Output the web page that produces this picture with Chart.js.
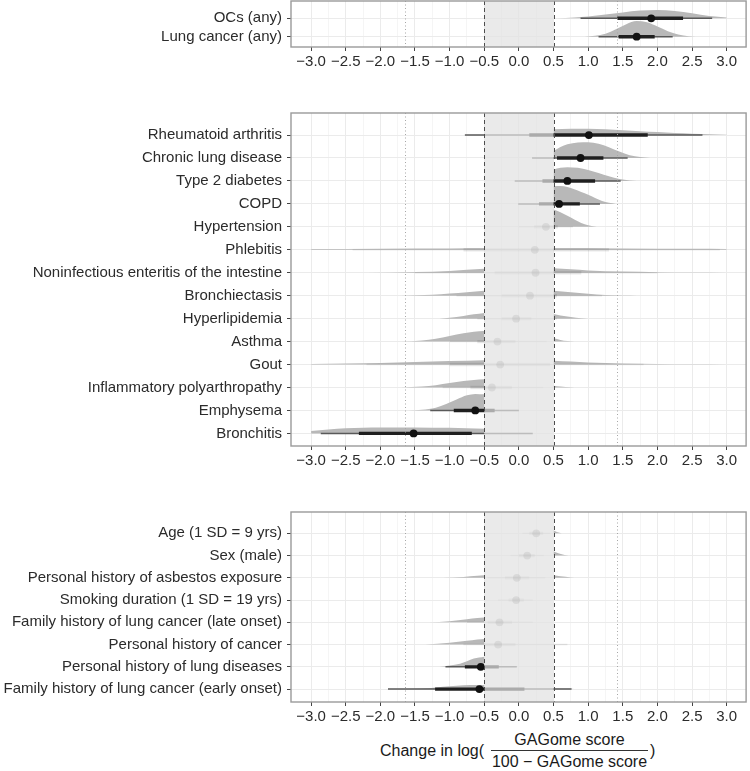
<!DOCTYPE html>
<html>
<head>
<meta charset="utf-8">
<script src="https://cdn.jsdelivr.net/npm/chart.js@4.4.1/dist/chart.umd.min.js"></script>
<style>
  html, body { margin: 0; padding: 0; background: #fff; }
  body { width: 750px; height: 771px; position: relative; overflow: hidden; font-family: "Liberation Sans", Arial, Helvetica, sans-serif; }
  canvas { position: absolute; left: 0; }
  .t { position: absolute; font-size: 16px; line-height: 16px; color: #1a1a1a; white-space: nowrap; }
</style>
</head>
<body>
<canvas id="c1"></canvas>
<canvas id="c2"></canvas>
<canvas id="c3"></canvas>

<div class="t" style="left:380px; top:743px;">Change in log(</div>
<div class="t" style="left:491px; width:157px; text-align:center; top:732px;">GAGome score</div>
<div style="position:absolute; left:491px; width:157px; top:750px; height:1px; background:#333;"></div>
<div class="t" style="left:491px; width:157px; text-align:center; top:754px;">100 &minus; GAGome score</div>
<div class="t" style="left:650px; top:743px;">)</div>

<script>
(function() {

  // x axis
  var X_BREAKS = [-3.0, -2.5, -2.0, -1.5, -1.0, -0.5, 0.0, 0.5, 1.0, 1.5, 2.0, 2.5, 3.0];
  var X_MINOR = [-2.75, -2.25, -1.75, -1.25, -0.75, -0.25, 0.25, 0.75, 1.25, 1.75, 2.25, 2.75];
  var ROPE = [-0.5, 0.5];
  var REF_DOTTED = [-1.65, 1.42];

  // panel 1 : outcomes
  var labels1 = ['OCs (any)', 'Lung cancer (any)'];
  var median1 = [1.91, 1.70];
  var thick1 = [[1.42, 2.37], [1.44, 1.96]];
  var thin1 = [[0.89, 2.79], [1.15, 2.22]];
  var sig1 = [true, true];
  // density outline [x, height in rows]; null = gap over the ROPE
  var dens1 = [
    [[0.55, 0], [0.8, 0.04], [1.0, 0.1], [1.25, 0.2], [1.5, 0.32], [1.75, 0.42], [2.0, 0.45], [2.25, 0.4], [2.5, 0.28], [2.75, 0.13], [3.0, 0.05]],
    [[0.95, 0], [1.1, 0.05], [1.25, 0.16], [1.4, 0.4], [1.55, 0.68], [1.7, 0.85], [1.85, 0.78], [2.0, 0.55], [2.15, 0.3], [2.3, 0.12], [2.45, 0.03], [2.55, 0]]
  ];

  // panel 2 : comorbidities
  var labels2 = ['Rheumatoid arthritis', 'Chronic lung disease', 'Type 2 diabetes', 'COPD', 'Hypertension', 'Phlebitis',
    'Noninfectious enteritis of the intestine', 'Bronchiectasis', 'Hyperlipidemia', 'Asthma', 'Gout',
    'Inflammatory polyarthropathy', 'Emphysema', 'Bronchitis'];
  var median2 = [1.01, 0.89, 0.70, 0.58, 0.39, 0.23, 0.24, 0.16, -0.04, -0.31, -0.27, -0.39, -0.63, -1.52];
  var thick2 = [[0.15, 1.86], [0.55, 1.22], [0.34, 1.10], [0.29, 0.88], [0.22, 0.56], [-0.8, 1.3], [-0.35, 0.9], [-0.25, 0.55],
    [-0.25, 0.18], [-0.6, -0.05], [-1.0, 0.45], [-0.7, -0.1], [-0.94, -0.35], [-2.31, -0.68]];
  var thin2 = [[-0.78, 2.65], [0.19, 1.57], [-0.06, 1.47], [-0.01, 1.17], [0.0, 0.78], [-2.4, 2.9], [-1.5, 2.0], [-0.9, 1.2],
    [-0.6, 0.55], [-1.0, 0.4], [-2.2, 1.8], [-1.1, 0.35], [-1.28, 0.0], [-2.86, 0.2]];
  var sig2 = [true, true, true, true, false, false, false, false, false, false, false, false, true, true];
  var dens2 = [
    [[0.5, 0.25], [0.75, 0.27], [1.0, 0.27], [1.25, 0.25], [1.5, 0.21], [1.75, 0.17], [2.0, 0.13], [2.25, 0.09], [2.5, 0.06], [2.75, 0.03], [3.0, 0.015]],
    [[0.5, 0.3], [0.6, 0.48], [0.7, 0.6], [0.85, 0.68], [1.0, 0.69], [1.15, 0.62], [1.3, 0.47], [1.45, 0.28], [1.6, 0.12], [1.75, 0.04], [1.9, 0]],
    [[0.5, 0.5], [0.6, 0.57], [0.7, 0.6], [0.85, 0.57], [1.0, 0.48], [1.15, 0.35], [1.3, 0.2], [1.45, 0.08], [1.6, 0.02], [1.7, 0]],
    [[0.5, 0.77], [0.6, 0.78], [0.7, 0.74], [0.8, 0.64], [0.9, 0.52], [1.0, 0.4], [1.1, 0.26], [1.2, 0.13], [1.3, 0.05], [1.4, 0]],
    [[0.5, 0.75], [0.6, 0.63], [0.7, 0.48], [0.8, 0.32], [0.9, 0.17], [1.0, 0.07], [1.1, 0.01], [1.15, 0]],
    [[-3.0, 0.03], [-2.0, 0.05], [-1.0, 0.06], [-0.5, 0.065], null, [0.5, 0.065], [1.5, 0.055], [2.5, 0.04], [3.0, 0.03]],
    [[-2.2, 0], [-1.5, 0.03], [-1.0, 0.08], [-0.5, 0.17], null, [0.5, 0.2], [0.75, 0.15], [1.0, 0.1], [1.5, 0.05], [2.0, 0.025], [2.5, 0.01], [3.0, 0]],
    [[-1.7, 0], [-1.25, 0.04], [-1.0, 0.09], [-0.75, 0.15], [-0.5, 0.22], null, [0.5, 0.22], [0.75, 0.15], [1.0, 0.08], [1.25, 0.03], [1.5, 0.01], [1.7, 0]],
    [[-1.15, 0], [-1.0, 0.04], [-0.8, 0.12], [-0.65, 0.19], [-0.5, 0.25], null, [0.5, 0.2], [0.6, 0.14], [0.75, 0.07], [0.9, 0.02], [1.0, 0]],
    [[-1.7, 0], [-1.4, 0.05], [-1.2, 0.12], [-1.0, 0.24], [-0.8, 0.36], [-0.65, 0.43], [-0.5, 0.46], null, [0.5, 0.14], [0.6, 0.07], [0.7, 0.02], [0.8, 0]],
    [[-3.0, 0.02], [-2.5, 0.04], [-2.0, 0.07], [-1.5, 0.11], [-1.0, 0.15], [-0.5, 0.19], null, [0.5, 0.17], [0.75, 0.13], [1.0, 0.09], [1.5, 0.05], [2.0, 0.025], [2.5, 0.01], [3.0, 0]],
    [[-1.7, 0], [-1.4, 0.04], [-1.2, 0.1], [-1.0, 0.19], [-0.8, 0.28], [-0.65, 0.33], [-0.5, 0.36], null, [0.5, 0.08], [0.6, 0.04], [0.75, 0.01], [0.85, 0]],
    [[-1.6, 0], [-1.4, 0.03], [-1.2, 0.12], [-1.05, 0.28], [-0.9, 0.48], [-0.75, 0.66], [-0.63, 0.72], [-0.5, 0.7]],
    [[-3.0, 0.1], [-2.75, 0.17], [-2.5, 0.22], [-2.25, 0.25], [-2.0, 0.26], [-1.5, 0.26], [-1.0, 0.24], [-0.75, 0.22], [-0.5, 0.2]]
  ];

  // panel 3 : demographics / history
  var labels3 = ['Age (1 SD = 9 yrs)', 'Sex (male)', 'Personal history of asbestos exposure', 'Smoking duration (1 SD = 19 yrs)',
    'Family history of lung cancer (late onset)', 'Personal history of cancer', 'Personal history of lung diseases',
    'Family history of lung cancer (early onset)'];
  var median3 = [0.25, 0.12, -0.03, -0.04, -0.28, -0.30, -0.55, -0.57];
  var thick3 = [[0.15, 0.35], [0.0, 0.23], [-0.2, 0.15], [-0.15, 0.07], [-0.45, -0.1], [-0.5, -0.05], [-0.78, -0.29], [-1.21, 0.08]];
  var thin3 = [[0.05, 0.45], [-0.12, 0.36], [-0.45, 0.38], [-0.3, 0.2], [-0.75, 0.2], [-0.8, 0.7], [-1.06, -0.03], [-1.89, 0.76]];
  var sig3 = [false, false, false, false, false, false, true, true];
  var dens3 = [
    [[0.5, 0.13], [0.55, 0.06], [0.62, 0.01], [0.65, 0]],
    [[0.5, 0.18], [0.58, 0.1], [0.66, 0.03], [0.72, 0]],
    [[-1.1, 0], [-0.8, 0.04], [-0.6, 0.09], [-0.5, 0.12], null, [0.5, 0.12], [0.6, 0.07], [0.75, 0.02], [0.85, 0]],
    [],
    [[-1.3, 0], [-1.0, 0.05], [-0.75, 0.14], [-0.6, 0.19], [-0.5, 0.22]],
    [[-1.35, 0], [-1.0, 0.08], [-0.75, 0.17], [-0.6, 0.23], [-0.5, 0.25], null, [0.5, 0.02], [0.6, 0]],
    [[-1.15, 0], [-1.0, 0.06], [-0.85, 0.14], [-0.75, 0.25], [-0.65, 0.37], [-0.5, 0.45]],
    [[-1.6, 0], [-1.3, 0.04], [-1.1, 0.1], [-0.9, 0.15], [-0.7, 0.18], [-0.5, 0.18], null, [0.5, 0.03], [0.7, 0.01], [0.8, 0]]
  ];

  var FONT = '"Liberation Sans", Arial, Helvetica, sans-serif';
  Chart.defaults.font.family = FONT;

  var PLOT_LEFT = 291, PAD_TOP = 4, X_AXIS_H = 28;

  function isMajor(v){
    return X_BREAKS.some(function(b){ return Math.abs(b - v) < 1e-6; });
  }

  function fmt(v){
    var s = Math.abs(v).toFixed(1);
    return v < -1e-6 ? '\u2212' + s : s;
  }

  function splitSegments(pts){
    var segs = [], cur = [];
    pts.forEach(function(p){
      if (p === null){ if (cur.length) segs.push(cur); cur = []; }
      else cur.push(p);
    });
    if (cur.length) segs.push(cur);
    return segs;
  }

  // no label-overhang padding: plot box is placed by hand
  function noPadding(s){
    s.paddingTop = 0; s.paddingBottom = 0; s.paddingLeft = 0; s.paddingRight = 0;
  }

  var overlays = {
    id: 'overlays',
    afterDatasetsDraw: function(chart){
      var ctx = chart.ctx, a = chart.chartArea, xs = chart.scales.x;
      ctx.save();
      // ROPE band on top of the marks
      var r0 = xs.getPixelForValue(ROPE[0]), r1 = xs.getPixelForValue(ROPE[1]);
      ctx.fillStyle = 'rgba(226,226,226,0.72)';
      ctx.fillRect(r0, a.top, r1 - r0, a.bottom - a.top);

      ctx.lineWidth = 1;
      ctx.strokeStyle = '#a6a6a6';
      ctx.setLineDash([1, 2.5]);
      REF_DOTTED.forEach(function(v){
        var px = Math.round(xs.getPixelForValue(v)) + 0.5;
        ctx.beginPath(); ctx.moveTo(px, a.top); ctx.lineTo(px, a.bottom); ctx.stroke();
      });
      ctx.strokeStyle = '#4d4d4d';
      ctx.setLineDash([4, 3]);
      ROPE.forEach(function(v){
        var px = Math.round(xs.getPixelForValue(v)) + 0.5;
        ctx.beginPath(); ctx.moveTo(px, a.top); ctx.lineTo(px, a.bottom); ctx.stroke();
      });
      ctx.setLineDash([]);
      ctx.strokeStyle = '#9a9a9a';
      ctx.lineWidth = 1.4;
      ctx.strokeRect(a.left, a.top, a.right - a.left, a.bottom - a.top);
      ctx.restore();
    }
  };

  function makePanel(id, plotTop, plotBottom, labels, median, thick, thin, sig, dens, yMin, yMax){
    var n = labels.length;
    var canvas = document.getElementById(id);
    var h = plotBottom - plotTop + PAD_TOP + X_AXIS_H;
    canvas.width = 750; canvas.height = h;
    canvas.style.width = '750px'; canvas.style.height = h + 'px';
    canvas.style.top = (plotTop - PAD_TOP) + 'px';

    var datasets = [];
    labels.forEach(function(lab, i){
      var yv = n - 1 - i;
      splitSegments(dens[i]).forEach(function(seg){
        datasets.push({
          type: 'line', showLine: true, order: 4,
          data: seg.map(function(p){ return {x: p[0], y: yv + p[1]}; }),
          fill: {value: yv}, backgroundColor: '#b8b8b8',
          borderColor: 'rgba(0,0,0,0)', borderWidth: 0,
          pointRadius: 0, pointHoverRadius: 0, cubicInterpolationMode: 'monotone'
        });
      });
      datasets.push({
        type: 'line', showLine: true, order: 3, fill: false,
        data: [{x: thin[i][0], y: yv}, {x: thin[i][1], y: yv}],
        borderColor: sig[i] ? '#595959' : 'rgba(90,90,90,0.12)', borderWidth: 1.5,
        borderCapStyle: 'butt', pointRadius: 0, pointHoverRadius: 0
      });
      datasets.push({
        type: 'line', showLine: true, order: 2, fill: false,
        data: [{x: thick[i][0], y: yv}, {x: thick[i][1], y: yv}],
        borderColor: sig[i] ? '#1f1f1f' : 'rgba(40,40,40,0.1)', borderWidth: 3.4,
        borderCapStyle: 'butt', pointRadius: 0, pointHoverRadius: 0
      });
    });
    datasets.push({
      type: 'scatter', order: 1,
      data: median.map(function(m, i){ return {x: m, y: n - 1 - i}; }),
      backgroundColor: sig.map(function(s){ return s ? '#111' : 'rgba(0,0,0,0.24)'; }),
      borderWidth: 0, pointRadius: 3.9, pointHoverRadius: 3.9
    });

    return new Chart(canvas, {
      type: 'scatter',
      data: {datasets: datasets},
      options: {
        responsive: false, animation: false, events: [],
        layout: {padding: {top: PAD_TOP, right: 2, bottom: 0, left: 0}},
        plugins: {legend: {display: false}, tooltip: {enabled: false}},
        scales: {
          x: {
            type: 'linear', min: -3.29, max: 3.28,
            afterBuildTicks: function(s){
              s.ticks = X_BREAKS.concat(X_MINOR).sort(function(a, b){ return a - b; })
                .map(function(v){ return {value: v}; });
            },
            afterFit: function(s){ s.height = X_AXIS_H; noPadding(s); },
            border: {display: false},
            grid: {
              color: function(c){ return c.tick && isMajor(c.tick.value) ? '#ebebeb' : '#f3f3f3'; },
              lineWidth: function(c){ return c.tick && isMajor(c.tick.value) ? 1 : 0.8; },
              tickColor: function(c){ return c.tick && isMajor(c.tick.value) ? '#444' : 'rgba(0,0,0,0)'; },
              tickLength: 4
            },
            ticks: {
              autoSkip: false, maxRotation: 0, padding: 2, color: '#2b2b2b',
              font: {size: 15, family: FONT},
              callback: function(v){ return isMajor(v) ? fmt(v) : ''; }
            }
          },
          y: {
            type: 'linear', min: yMin, max: yMax,
            afterBuildTicks: function(s){
              s.ticks = labels.map(function(_, i){ return {value: i}; });
            },
            afterFit: function(s){ s.width = PLOT_LEFT; noPadding(s); },
            border: {display: false},
            grid: {color: '#ebebeb', lineWidth: 1, tickColor: '#444', tickLength: 4},
            ticks: {
              autoSkip: false, padding: 5, color: '#2b2b2b',
              font: {size: 15, family: FONT},
              callback: function(v){ return labels[n - 1 - v]; }
            }
          }
        }
      },
      plugins: [overlays]
    });
  }

  makePanel('c1', 1, 47, labels1, median1, thick1, thin1, sig1, dens1, -0.56, 1.94);
  makePanel('c2', 113, 446, labels2, median2, thick2, thin2, sig2, dens2, -0.55, 13.96);
  makePanel('c3', 512, 702, labels3, median3, thick3, thin3, sig3, dens3, -0.58, 7.96);

}());
</script>
</body>
</html>
